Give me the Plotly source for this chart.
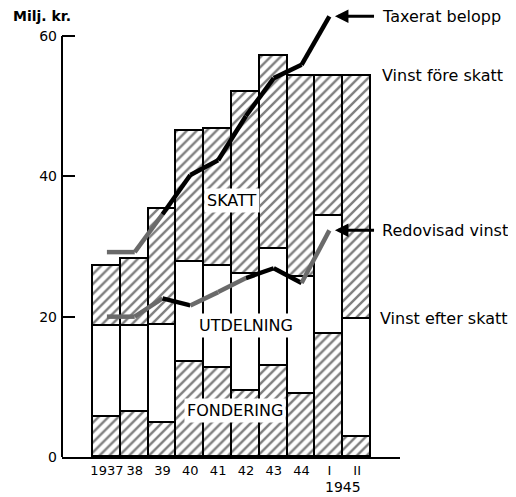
import plotly.graph_objects as go

# ---- data ----
categories = ["1937", "38", "39", "40", "41", "42", "43", "44", "I", "II"]
vinst_fore_skatt = [27.2, 28.2, 35.3, 46.4, 46.7, 52.0, 57.2, 54.3, 54.3, 54.3]
vinst_efter_skatt = [18.7, 18.7, 18.8, 27.8, 27.2, 26.1, 29.6, 25.7, 34.3, 19.7]
fondering = [5.7, 6.4, 4.8, 13.5, 12.7, 9.4, 13.0, 9.0, 17.5, 2.8]
taxerat_belopp = [29.2, 29.2, 34.6, 40.2, 42.3, 48.6, 54.0, 55.9, 62.8, None]
redovisad_vinst = [20.0, 20.0, 22.6, 21.6, 23.5, 25.5, 26.9, 24.8, 32.3, None]
# segment colouring of the lines (True = grey/dashed-looking part)
taxerat_grey = [True, True, False, False, False, False, False, False]
redovisad_grey = [True, True, False, True, True, False, False, True]
y_ticks = [0, 20, 40, 60]

utdelning = [e - f for e, f in zip(vinst_efter_skatt, fondering)]
skatt = [t - e for t, e in zip(vinst_fore_skatt, vinst_efter_skatt)]
xpos = list(range(len(categories)))

FONT = "DejaVu Sans"
hatch = dict(shape="/", size=7, solidity=0.35, fgcolor="black", bgcolor="white")
outline = dict(color="black", width=1.8)

fig = go.Figure()
fig.add_trace(go.Bar(x=xpos, y=fondering, width=1, name="Fondering",
                     marker=dict(color="white", line=outline, pattern=hatch)))
fig.add_trace(go.Bar(x=xpos, y=utdelning, width=1, name="Utdelning",
                     marker=dict(color="white", line=outline)))
fig.add_trace(go.Bar(x=xpos, y=skatt, width=1, name="Skatt",
                     marker=dict(color="white", line=outline, pattern=hatch)))


def add_segments(values, greys):
    for i, g in enumerate(greys):
        if values[i] is None or values[i + 1] is None:
            continue
        fig.add_trace(go.Scatter(
            x=xpos[i:i + 2], y=values[i:i + 2], mode="lines",
            line=dict(color="#6a6a6a" if g else "black", width=4.5),
            showlegend=False, hoverinfo="skip", cliponaxis=False))


add_segments(taxerat_belopp, taxerat_grey)
add_segments(redovisad_vinst, redovisad_grey)

# y axis line only up to 60
fig.add_shape(type="line", xref="paper", yref="y", x0=0, x1=0, y0=0, y1=y_ticks[-1],
              line=dict(color="black", width=2))

ann_font = dict(family=FONT, size=16, color="black")
# interior labels
fig.add_annotation(x=4.5, y=36.6, text="SKATT", showarrow=False, bgcolor="white",
                   font=ann_font, borderpad=2)
fig.add_annotation(x=5.0, y=18.8, text="UTDELNING", showarrow=False, bgcolor="white",
                   font=ann_font, borderpad=2)
fig.add_annotation(x=4.6, y=6.6, text="FONDERING", showarrow=False, bgcolor="white",
                   font=ann_font, borderpad=2)

# right side labels
rx = 9.82
fig.add_annotation(x=rx, y=taxerat_belopp[8], text="Taxerat belopp", showarrow=False,
                   xanchor="left", font=ann_font)
fig.add_annotation(x=rx, y=vinst_fore_skatt[-1], text="Vinst före skatt", showarrow=False,
                   xanchor="left", font=ann_font)
fig.add_annotation(x=rx, y=redovisad_vinst[8], text="Redovisad vinst", showarrow=False,
                   xanchor="left", font=ann_font)
fig.add_annotation(x=rx - 0.06, y=vinst_efter_skatt[-1], text="Vinst efter skatt", showarrow=False,
                   xanchor="left", font=ann_font)
for v in (taxerat_belopp[8], redovisad_vinst[8]):
    fig.add_annotation(x=8.2, y=v, ax=9.66, ay=v, axref="x", ayref="y", text="",
                       showarrow=True, arrowhead=2, arrowsize=0.9, arrowwidth=3,
                       arrowcolor="black", standoff=0, startstandoff=0)

fig.add_annotation(x=8.5, y=-0.0668, xref="x", yref="paper", text="1945", showarrow=False,
                   font=dict(family=FONT, size=14, color="black"),
                   xanchor="center", yanchor="middle")
fig.add_annotation(x=-0.059, y=0.982, xref="paper", yref="paper", text="<b>Milj. kr.</b>",
                   showarrow=False, font=dict(family=FONT, size=14, color="black"),
                   xanchor="center", yanchor="middle")

fig.update_layout(
    width=508, height=489,
    margin=dict(l=54, r=116, t=0, b=40, autoexpand=False),
    paper_bgcolor="white", plot_bgcolor="white",
    barmode="stack", bargap=0, showlegend=False,
    font=dict(family=FONT, size=14, color="black"),
)
fig.update_xaxes(range=[-1.615, 10.54], tickmode="array", tickvals=xpos, ticktext=categories,
                 showgrid=False, zeroline=False, showline=True, linecolor="black", linewidth=2,
                 ticks="", tickangle=0, automargin=False, tickfont=dict(family=FONT, size=13))
fig.update_yaxes(range=[0, 63.99], tickmode="array", tickvals=y_ticks, automargin=False,
                 showgrid=False, zeroline=False, showline=False,
                 ticks="inside", ticklen=13, tickwidth=2, tickcolor="black",
                 tickfont=dict(family=FONT, size=14), ticklabelstandoff=4)

fig.write_html("out.html")
